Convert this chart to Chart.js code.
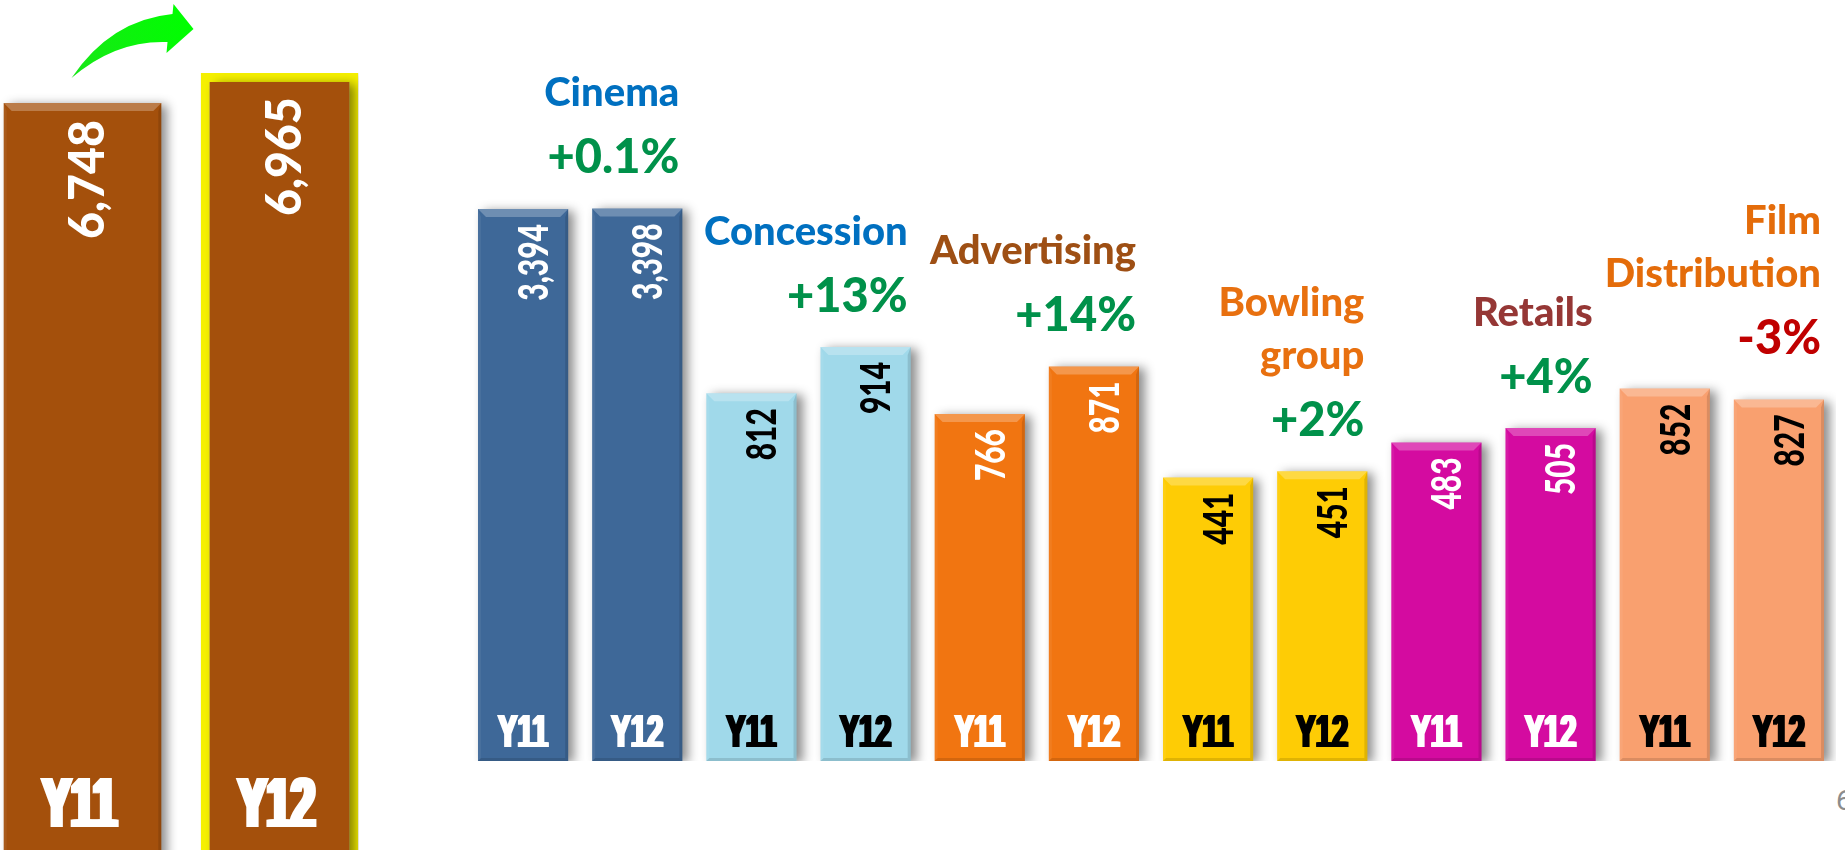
<!DOCTYPE html>
<html>
<head>
<meta charset="utf-8">
<script src="https://cdn.jsdelivr.net/npm/chart.js@4.4.1/dist/chart.umd.min.js"></script>
<style>
  html, body { margin: 0; padding: 0; background: #fff; overflow: hidden; width: 1845px; height: 850px; }
  #totalWrap { position: absolute; left: -16px; top: 0; width: 394px; height: 1036px; }
  #segWrap { position: absolute; left: 466px; top: 0; width: 1370px; height: 850px; }
  #pageNo { position: absolute; left: 1836px; top: 784px; font: 28px Roboto, sans-serif; color: #8c8c8c; }
</style>
</head>
<body>
<div id="totalWrap"><canvas id="totalChart" width="394" height="1036"></canvas></div>
<div id="segWrap"><canvas id="segChart" width="1370" height="850"></canvas></div>
<div id="pageNo">6</div>
<script>
// group totals
const yearLabels = ['Y11', 'Y12'];
const totals = [6748, 6965];

// business segments
const segments = ['Cinema', 'Concession', 'Advertising', 'Bowling group', 'Retails', 'Film Distribution'];
const segmentTitles = [['Cinema'], ['Concession'], ['Advertising'], ['Bowling', 'group'], ['Retails'], ['Film', 'Distribution']];
const valuesY11 = [3394, 812, 766, 441, 483, 852];
const valuesY12 = [3398, 914, 871, 451, 505, 827];
const growth = ['+0.1%', '+13%', '+14%', '+2%', '+4%', '-3%'];

// every segment is plotted against its own hidden axis
const segmentAxisMax = [4680, 1680, 1680, 1184, 1154, 1741];
const totalAxisMax = 7493;

const barColors = ['#3E6898', '#A0D9EA', '#F17511', '#FECC05', '#D40BA0', '#F9A06F'];
const valueColors = ['#ffffff', '#000000', '#ffffff', '#000000', '#ffffff', '#000000'];
const titleColors = ['#0070C0', '#0070C0', '#9E4F14', '#E8700F', '#953735', '#E46C0A'];

function poly(ctx, pts, fill) {
  ctx.beginPath();
  ctx.moveTo(pts[0][0], pts[0][1]);
  pts.slice(1).forEach(p => ctx.lineTo(p[0], p[1]));
  ctx.closePath();
  ctx.fillStyle = fill;
  ctx.fill();
}

// vertical number reading bottom-to-top, right end at topY
function rotatedText(ctx, text, cx, topY, size, sx, color) {
  ctx.save();
  ctx.font = `900 ${size}px Lato`;
  ctx.fillStyle = color;
  ctx.textAlign = 'right';
  ctx.textBaseline = 'alphabetic';
  ctx.translate(cx, topY);
  ctx.rotate(-Math.PI / 2);
  ctx.scale(sx, 1);
  ctx.fillText(text, 0, size * 0.72 / 2);
  ctx.restore();
}

// squeezed heavy caption (Y11 / Y12)
function condensedText(ctx, text, cx, baseline, size, sx, smear, color) {
  ctx.save();
  ctx.font = `bold ${size}px "Liberation Sans"`;
  ctx.fillStyle = color;
  ctx.textAlign = 'center';
  ctx.textBaseline = 'alphabetic';
  ctx.translate(cx, baseline);
  ctx.scale(sx, 1);
  for (let d = 0; d <= smear; d++) ctx.fillText(text, (d - smear / 2) / sx, 0);
  ctx.restore();
}

// drop shadow + bevelled edges on every bar
const bevelPlugin = {
  id: 'bevel',
  beforeDatasetsDraw(chart) {
    const ctx = chart.ctx;
    ctx.save();
    ctx.shadowColor = 'rgba(0,0,0,0.45)';
    ctx.shadowBlur = 10;
    ctx.shadowOffsetX = 6;
    ctx.shadowOffsetY = 2;
  },
  afterDatasetsDraw(chart) {
    const ctx = chart.ctx;
    ctx.restore();
    chart.data.datasets.forEach((ds, i) => {
      chart.getDatasetMeta(i).data.forEach((bar, j) => {
        if (ds.data[j] == null) return;
        const bw = Array.isArray(ds.borderWidth) ? ds.borderWidth[j] : ds.borderWidth;
        if (bw) return;
        const { x, y, base, width } = bar.getProps(['x', 'y', 'base', 'width'], true);
        const l = x - width / 2, r = x + width / 2, b = 8, s = 3;
        poly(ctx, [[l, y], [r, y], [r - b, y + b], [l + b, y + b]], 'rgba(255,255,255,0.25)');
        poly(ctx, [[r, y], [r, base], [r - s, base - s], [r - s, y + b]], 'rgba(0,0,0,0.12)');
        poly(ctx, [[l, base], [r, base], [r - s, base - s], [l + s, base - s]], 'rgba(0,0,0,0.12)');
        poly(ctx, [[l, y], [l + s, y + b], [l + s, base - s], [l, base]], 'rgba(255,255,255,0.06)');
      });
    });
  }
};

// ---------- totals ----------
const totalLabels = {
  id: 'totalLabels',
  afterDraw(chart) {
    const ctx = chart.ctx;
    const bars = chart.getDatasetMeta(0).data;
    const bw = chart.data.datasets[0].borderWidth;
    bars.forEach((bar, k) => {
      rotatedText(ctx, totals[k].toLocaleString('en-US'), bar.x + 3, bar.y + 17 + bw[k] * 0.8, 50, 0.93, '#ffffff');
      condensedText(ctx, yearLabels[k], bar.x - 3, 827, 71, 0.61, 6, '#ffffff');
    });

    // growth arrow from Y11 to Y12
    const a = bars[0], c = bars[1];
    const tail = [a.x - 11, a.y - 25];
    const tip = [c.x - 86, c.y - 44];
    const headTop = [c.x - 106, c.y - 69];
    const headBot = [c.x - 113, c.y - 20];
    const upJoin = [c.x - 107, c.y - 59];
    const lowJoin = [c.x - 112, c.y - 31];
    ctx.save();
    const g = ctx.createLinearGradient(tail[0], tail[1], tip[0], tip[1]);
    g.addColorStop(0, '#19e619');
    g.addColorStop(1, '#00ff00');
    ctx.fillStyle = g;
    ctx.beginPath();
    ctx.moveTo(tail[0], tail[1]);
    ctx.quadraticCurveTo(tail[0] + 39, c.y - 53, upJoin[0], upJoin[1]);
    ctx.lineTo(headTop[0], headTop[1]);
    ctx.lineTo(tip[0], tip[1]);
    ctx.lineTo(headBot[0], headBot[1]);
    ctx.lineTo(lowJoin[0], lowJoin[1]);
    ctx.quadraticCurveTo(tail[0] + 44, c.y - 33, tail[0], tail[1]);
    ctx.closePath();
    ctx.fill();
    ctx.restore();
  }
};

new Chart(document.getElementById('totalChart'), {
  type: 'bar',
  data: {
    labels: yearLabels,
    datasets: [{
      data: totals,
      backgroundColor: '#A4500C',
      borderColor: ['rgba(0,0,0,0)', '#F5F000'],
      borderWidth: [0, 9],
      borderSkipped: false,
      barPercentage: 0.8,
      categoryPercentage: 1
    }]
  },
  options: {
    responsive: false,
    animation: false,
    plugins: { legend: { display: false }, tooltip: { enabled: false } },
    scales: {
      x: { display: false },
      y: { display: false, min: 0, max: totalAxisMax }
    }
  },
  plugins: [bevelPlugin, totalLabels]
});

// ---------- segments ----------
const segLabels = segments.flatMap(() => yearLabels);

const segScales = { x: { display: false } };
segments.forEach((s, i) => {
  segScales['y' + i] = { display: false, min: 0, max: segmentAxisMax[i] };
});

const segmentLabels = {
  id: 'segmentLabels',
  afterDraw(chart) {
    const ctx = chart.ctx;
    segments.forEach((s, i) => {
      const bars = chart.getDatasetMeta(i).data;
      const b11 = bars[2 * i], b12 = bars[2 * i + 1];
      [b11, b12].forEach((bar, k) => {
        const v = k ? valuesY12[i] : valuesY11[i];
        rotatedText(ctx, v.toLocaleString('en-US'), bar.x + 10, bar.y + 15, 41, 0.73, valueColors[i]);
        condensedText(ctx, yearLabels[k], bar.x, bar.base - 14, 47, 0.62, 3, valueColors[i]);
      });

      const right = b12.x + b12.width / 2 - 3;
      const pctBase = Math.min(b11.y, b12.y) - 35;
      ctx.save();
      ctx.textAlign = 'right';
      ctx.textBaseline = 'alphabetic';
      ctx.font = '900 47px Lato';
      ctx.fillStyle = growth[i].startsWith('-') ? '#C00000' : '#00914A';
      ctx.fillText(growth[i], right, pctBase);
      ctx.font = '900 40px Lato';
      ctx.fillStyle = titleColors[i];
      const lines = segmentTitles[i];
      lines.forEach((line, n) => {
        ctx.fillText(line, right, pctBase - 67 - (lines.length - 1 - n) * 53);
      });
      ctx.restore();
    });
  }
};

new Chart(document.getElementById('segChart'), {
  type: 'bar',
  data: {
    labels: segLabels,
    datasets: segments.map((s, i) => ({
      label: s,
      data: segLabels.map((_, j) => Math.floor(j / 2) === i ? (j % 2 ? valuesY12[i] : valuesY11[i]) : null),
      backgroundColor: barColors[i],
      borderWidth: 0,
      yAxisID: 'y' + i,
      grouped: false,
      barPercentage: 0.79,
      categoryPercentage: 1
    }))
  },
  options: {
    responsive: false,
    animation: false,
    layout: { padding: { bottom: 89 } },
    plugins: { legend: { display: false }, tooltip: { enabled: false } },
    scales: segScales
  },
  plugins: [bevelPlugin, segmentLabels]
});
</script>
</body>
</html>
